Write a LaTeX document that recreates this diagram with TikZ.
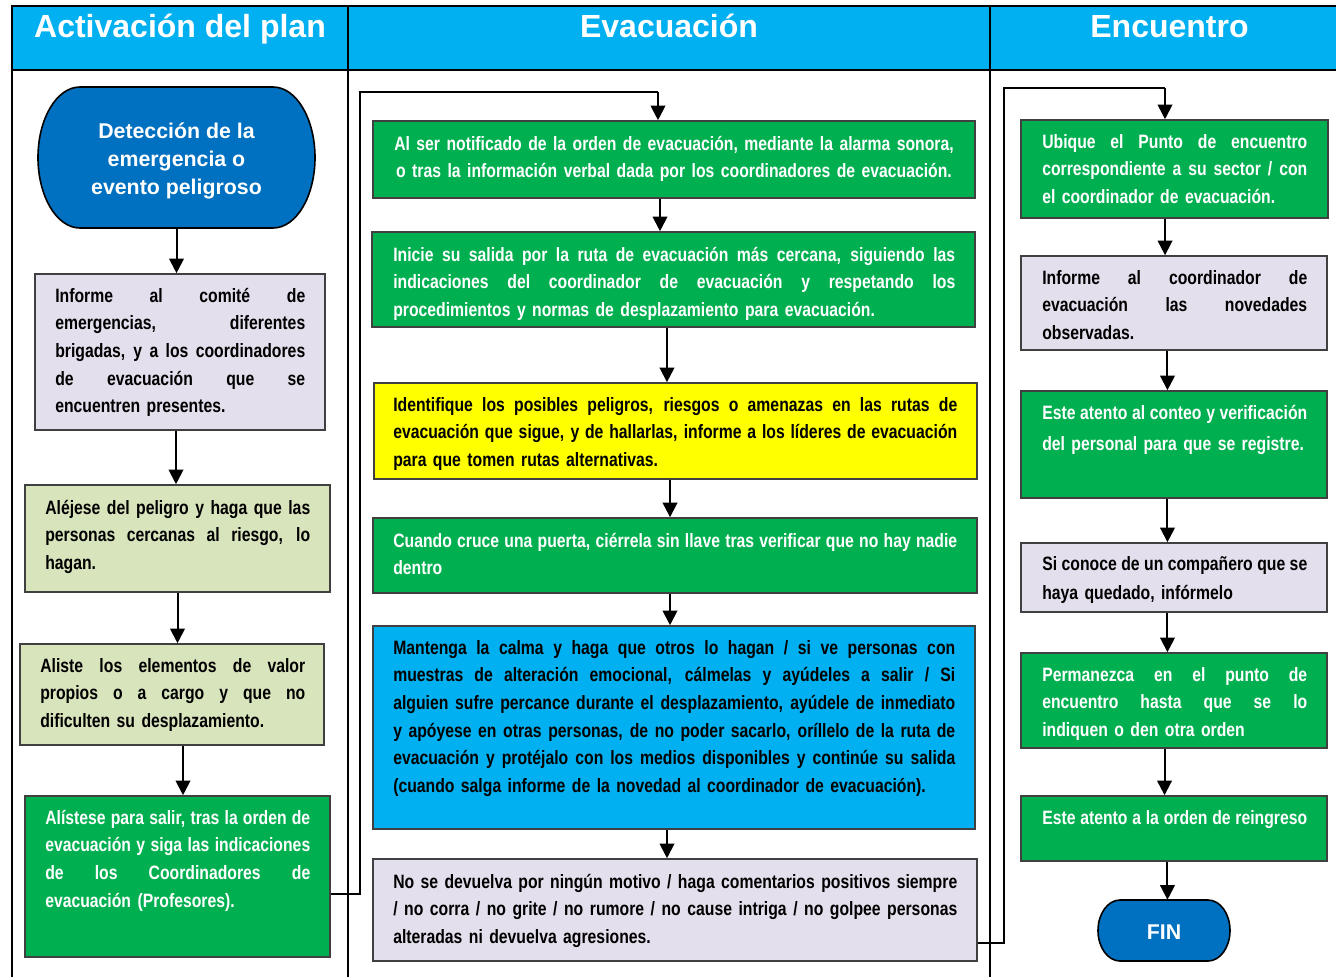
\documentclass[tikz,border=0pt]{standalone}
\usepackage{fontspec}
\setmainfont{Liberation Sans}
\newfontfamily\bodyfont{Liberation Sans}[FakeStretch=0.815]
\usetikzlibrary{arrows.meta,fit}
\definecolor{hdrcyan}{HTML}{00B0F0}
\definecolor{termblue}{HTML}{0070C0}
\definecolor{boxgreen}{HTML}{00B050}
\definecolor{lav}{HTML}{E4DFEC}
\definecolor{olivelt}{HTML}{D8E4BC}
\definecolor{yel}{HTML}{FFFF00}
\hyphenpenalty=10000
\newcommand\jl[1]{\leavevmode\hbox to \hsize{\spaceskip=0.22em plus 1fil minus 0.06em\relax #1}}
\newcommand\bodysp{\spaceskip=0.22em plus 0.2em minus 0.05em\relax}
\begin{document}
\begin{tikzpicture}[x=0.75pt,y=-0.75pt,
  tbl/.style={line width=1.6pt,draw=black},
  hdrcell/.style={draw=black,line width=1.6pt,fill=hdrcyan,inner sep=0pt},
  hdrtxt/.style={anchor=base,inner sep=0pt,text=white,font=\fontsize{24}{28}\selectfont\bfseries},
  box/.style={draw=black!75,line width=1.2pt,inner sep=0pt},
  termst/.style={draw=black,line width=1.2pt,fill=termblue},
  termtxt/.style={anchor=base,inner sep=0pt,align=center,text=white,font=\fontsize{16}{21}\selectfont\bfseries},
  txt/.style={anchor=base west,inner sep=0pt,align=left,font=\bodyfont\bfseries\fontsize{14.5}{20.8}\selectfont\bodysp},
  wtxt/.style={txt,text=white},
  arr/.style={line width=1.5pt,-{Triangle[width=11pt,length=11pt]}},
  conn/.style={line width=1.1pt}]
\useasboundingbox (0,0) rectangle (1336,976);
\clip (0,0) rectangle (1336,976);
\fill[white] (0,0) rectangle (1336,976);

% table
\node[hdrcell,fit={(12,6) (348,70)}] (H1) {};
\node[hdrcell,fit={(348,6) (990,70)}] (H2) {};
\node[hdrcell,fit={(990,6) (1345,70)}] (H3) {};
\node[hdrtxt] (H1t) at (180,37) {Activación del plan};
\node[hdrtxt] (H2t) at (669,37) {Evacuación};
\node[hdrtxt] (H3t) at (1169.5,37) {Encuentro};
\draw[tbl] (12,70) -- (12,980);
\draw[tbl] (348,70) -- (348,980);
\draw[tbl] (990,70) -- (990,980);

% ---------- left column
\node[fit={(38,87) (315,228)},inner sep=0pt] (t1) {};
\draw[termst] (80,87) -- (273,87) arc[start angle=-90,end angle=90,x radius=42,y radius=70.5]
  -- (80,228) arc[start angle=90,end angle=270,x radius=42,y radius=70.5] -- cycle;
\node[termtxt] (t1t) at (176.5,194.5) {Detección de la\\emergencia o\\evento peligroso};

\node[box,fill=lav,fit={(35,274) (325,430)}] (l2) {};
\node[txt,text width=187.5pt] (l2t) at (55,302) {\jl{Informe al comité de}\\\jl{emergencias, diferentes}\\\jl{brigadas, y a los coordinadores}\\\jl{de evacuación que se}\\encuentren presentes.};

\node[box,fill=olivelt,fit={(25,485) (330,592)}] (l3) {};
\node[txt,text width=198.75pt] (l3t) at (45,514) {\jl{Aléjese del peligro y haga que las}\\\jl{personas cercanas al riesgo, lo}\\hagan.};

\node[box,fill=olivelt,fit={(20,644) (324,745)}] (l4) {};
\node[txt,text width=198.75pt] (l4t) at (40,672) {\jl{Aliste los elementos de valor}\\\jl{propios o a cargo y que no}\\dificulten su desplazamiento.};

\node[box,fill=boxgreen,fit={(25,796) (330,957)}] (l5) {};
\node[wtxt,text width=198.75pt] (l5t) at (45,824) {\jl{Alístese para salir, tras la orden de}\\\jl{evacuación y siga las indicaciones}\\\jl{de los Coordinadores de}\\evacuación (Profesores).};

\draw[arr] (t1.south) -- (t1.south |- l2.north);
\draw[arr] ([xshift=-3pt]l2.south) -- ([xshift=-3pt]l2.south |- l3.north);
\draw[arr] (l3.south) -- (l3.south |- l4.north);
\draw[arr] ([xshift=8.25pt]l4.south) -- ([xshift=8.25pt]l4.south |- l5.north);

% ---------- middle column
\node[box,fill=boxgreen,fit={(373,121) (975,198)}] (m1) {};
\node[anchor=base,inner sep=0pt,align=center,text=white,text width=427.5pt,font=\bodyfont\bfseries\fontsize{14.5}{20.8}\selectfont\bodysp] (m1t) at (674,150) {Al ser notificado de la orden de evacuación, mediante la alarma sonora,\\o tras la información verbal dada por los coordinadores de evacuación.};

\node[box,fill=boxgreen,fit={(372,232) (975,327)}] (m2) {};
\node[wtxt,text width=421.5pt] (m2t) at (393,261) {\jl{Inicie su salida por la ruta de evacuación más cercana, siguiendo las}\\\jl{indicaciones del coordinador de evacuación y respetando los}\\procedimientos y normas de desplazamiento para evacuación.};

\node[box,fill=yel,fit={(374,383) (977,479)}] (m3) {};
\node[txt,text width=423pt] (m3t) at (393,411) {\jl{Identifique los posibles peligros, riesgos o amenazas en las rutas de}\\\jl{evacuación que sigue, y de hallarlas, informe a los líderes de evacuación}\\para que tomen rutas alternativas.};

\node[box,fill=boxgreen,fit={(373,518) (977,593)}] (m4) {};
\node[wtxt,text width=423pt] (m4t) at (393,547) {\jl{Cuando cruce una puerta, ciérrela sin llave tras verificar que no hay nadie}\\dentro};

\node[box,fill=hdrcyan,fit={(373,626) (975,829)}] (m5) {};
\node[txt,text width=421.5pt] (m5t) at (393,654) {\jl{Mantenga la calma y haga que otros lo hagan / si ve personas con}\\\jl{muestras de alteración emocional, cálmelas y ayúdeles a salir / Si}\\\jl{alguien sufre percance durante el desplazamiento, ayúdele de inmediato}\\\jl{y apóyese en otras personas, de no poder sacarlo, oríllelo de la ruta de}\\\jl{evacuación y protéjalo con los medios disponibles y continúe su salida}\\(cuando salga informe de la novedad al coordinador de evacuación).};

\node[box,fill=lav,fit={(373,859) (977,961)}] (m6) {};
\node[txt,text width=423pt] (m6t) at (393,888) {\jl{No se devuelva por ningún motivo / haga comentarios positivos siempre}\\\jl{/ no corra / no grite / no rumore / no cause intriga / no golpee personas}\\alteradas ni devuelva agresiones.};

\draw[arr] ([xshift=-10.5pt]m1.south) -- ([xshift=-10.5pt]m1.south |- m2.north);
\draw[arr] ([xshift=-4.9pt]m2.south) -- ([xshift=-4.9pt]m2.south |- m3.north);
\draw[arr] ([xshift=-4.1pt]m3.south) -- ([xshift=-4.1pt]m3.south |- m4.north);
\draw[arr] ([xshift=-3.75pt]m4.south) -- ([xshift=-3.75pt]m4.south |- m5.north);
\draw[arr] ([xshift=-5.25pt]m5.south) -- ([xshift=-5.25pt]m5.south |- m6.north);

% ---------- right column
\node[box,fill=boxgreen,fit={(1021,120) (1328,218)}] (r1) {};
\node[wtxt,text width=198.75pt] (r1t) at (1042,148) {\jl{Ubique el Punto de encuentro}\\\jl{correspondiente a su sector / con}\\el coordinador de evacuación.};

\node[box,fill=lav,fit={(1021,256) (1327,350)}] (r2) {};
\node[txt,text width=198.75pt] (r2t) at (1042,284) {\jl{Informe al coordinador de}\\\jl{evacuación las novedades}\\observadas.};

\node[box,fill=boxgreen,fit={(1021,391) (1327,498)}] (r3) {};
\node[wtxt,text width=198.75pt,font=\bodyfont\bfseries\fontsize{14.5}{23.25}\selectfont\bodysp] (r3t) at (1042,419) {\jl{Este atento al conteo y verificación}\\del personal para que se registre.};

\node[box,fill=lav,fit={(1021,543) (1327,612)}] (r4) {};
\node[txt,text width=198.75pt,font=\bodyfont\bfseries\fontsize{14.5}{21.75}\selectfont\bodysp] (r4t) at (1042,570) {\jl{Si conoce de un compañero que se}\\haya quedado, infórmelo};

\node[box,fill=boxgreen,fit={(1021,653) (1327,748)}] (r5) {};
\node[wtxt,text width=198.75pt] (r5t) at (1042,681) {\jl{Permanezca en el punto de}\\\jl{encuentro hasta que se lo}\\indiquen o den otra orden};

\node[box,fill=boxgreen,fit={(1021,796) (1327,861)}] (r6) {};
\node[wtxt,text width=198.75pt] (r6t) at (1042,824) {\jl{Este atento a la orden de reingreso}};

\node[fit={(1098,900) (1230,961)},inner sep=0pt] (fin) {};
\draw[termst] (1120,900) -- (1208,900) arc[start angle=-90,end angle=90,x radius=22,y radius=30.5]
  -- (1120,961) arc[start angle=90,end angle=270,x radius=22,y radius=30.5] -- cycle;
\node[termtxt] (fint) at (1164,939) {FIN};

\draw[arr] ([xshift=-7.1pt]r1.south) -- ([xshift=-7.1pt]r1.south |- r2.north);
\draw[arr] ([xshift=-4.9pt]r2.south) -- ([xshift=-4.9pt]r2.south |- r3.north);
\draw[arr] ([xshift=-4.9pt]r3.south) -- ([xshift=-4.9pt]r3.south |- r4.north);
\draw[arr] ([xshift=-4.9pt]r4.south) -- ([xshift=-4.9pt]r4.south |- r5.north);
\draw[arr] ([xshift=-7.1pt]r5.south) -- ([xshift=-7.1pt]r5.south |- r6.north);
\draw[arr] ([xshift=-4.9pt]r6.south) -- ([xshift=-4.9pt]r6.south |- fin.north);

% ---------- loop connectors
\coordinate (j1) at (360,894);
\coordinate (j2) at (360,92);
\coordinate (j3) at (658,92);
\draw[conn] (l5.east |- j1) -- (j1) -- (j2) -- (j3);
\draw[arr] (j3) -- (j3 |- m1.north);

\coordinate (k1) at (1004,943);
\coordinate (k2) at (1004,88);
\coordinate (k3) at (1165,88);
\draw[conn] (m6.east |- k1) -- (k1) -- (k2) -- (k3);
\draw[arr] (k3) -- (k3 |- r1.north);
\end{tikzpicture}
\end{document}
